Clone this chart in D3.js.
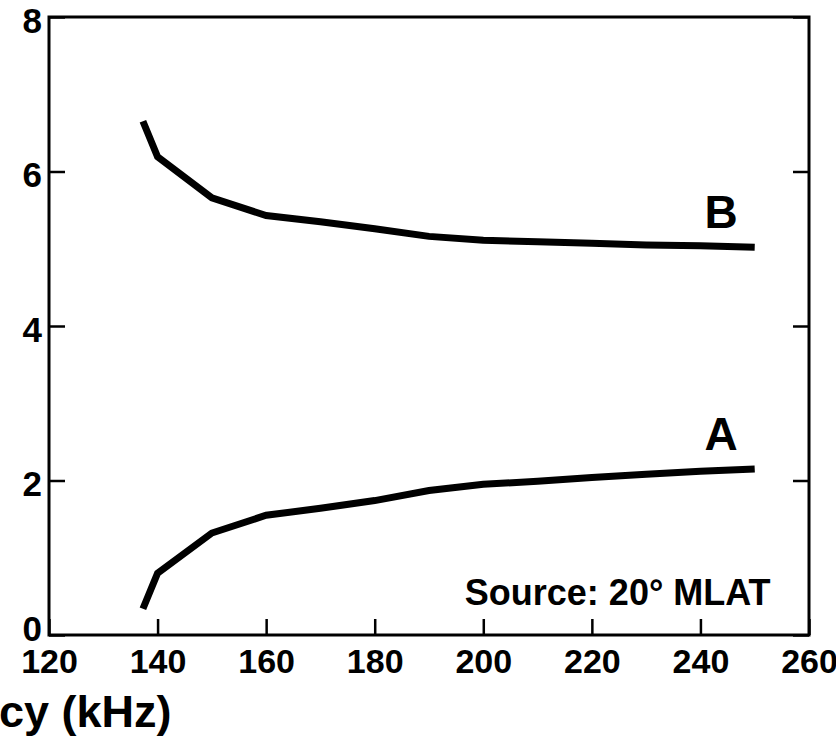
<!DOCTYPE html>
<html lang="en">
<head>
    <meta charset="UTF-8"/>
    <title>Frequency chart</title>
    <script src="https://d3js.org/d3.v7.min.js" charset="utf-8"></script>
    <style type="text/css">
        body { margin: 0; background: #fff; }
        text {
            font-family: "Liberation Sans", Arial, Helvetica, sans-serif;
            font-weight: bold;
            fill: #000;
        }
        path.curve {
            fill: none;
            stroke: #000;
            stroke-width: 7px;
        }
        .axis line { stroke: #000; stroke-width: 2.5px; }
        .axis path { display: none; }
    </style>
</head>
<body>
<div id="chart"></div>
<script type="text/javascript">
    // data
    var freq = [137.3, 140, 150, 160, 170, 180, 190, 200, 210, 220, 230, 240, 250];
    var curveA = [0.34, 0.80, 1.32, 1.55, 1.64, 1.74, 1.87, 1.95, 1.99, 2.04, 2.08, 2.12, 2.15];
    var curveB = [6.65, 6.19, 5.66, 5.43, 5.35, 5.26, 5.16, 5.11, 5.09, 5.07, 5.05, 5.04, 5.02];
    var xTicks = [120, 140, 160, 180, 200, 220, 240, 260];
    var yTicks = [0, 2, 4, 6, 8];

    var margin = {top: 17, right: 27, bottom: 104, left: 49},
        width = 836 - margin.left - margin.right,
        height = 739 - margin.top - margin.bottom;

    var svg = d3.select("#chart")
        .append("svg")
        .attr("width", 836)
        .attr("height", 739)
        .append("g")
        .attr("transform", "translate(" + margin.left + "," + margin.top + ")");

    var x = d3.scaleLinear().domain([120, 260]).range([0, width]);
    var y = d3.scaleLinear().domain([0, 8]).range([height, 0]);

    // bottom axis, ticks point inward
    var xAxis = svg.append("g")
        .attr("class", "axis")
        .attr("transform", "translate(0," + height + ")")
        .call(d3.axisBottom(x).tickValues(xTicks).tickSizeInner(-16).tickSizeOuter(0));
    xAxis.selectAll("text")
        .attr("y", 38)
        .attr("dy", null)
        .style("font-size", "34px");

    // left axis
    var yAxis = svg.append("g")
        .attr("class", "axis")
        .call(d3.axisLeft(y).tickValues(yTicks).tickSizeInner(-16).tickSizeOuter(0));
    yAxis.selectAll("text")
        .attr("x", -7)
        .attr("dy", null)
        .attr("y", function (d) { return d === 0 ? 5 : 15; })
        .style("font-size", "35px");

    // right axis, ticks only
    svg.append("g")
        .attr("class", "axis")
        .attr("transform", "translate(" + width + ",0)")
        .call(d3.axisRight(y).tickValues(yTicks).tickSizeInner(-16).tickSizeOuter(0).tickFormat(""));

    // frame
    svg.append("rect")
        .attr("width", width)
        .attr("height", height)
        .style("fill", "none")
        .style("stroke", "#000")
        .style("stroke-width", 3);

    var line = d3.line()
        .x(function (d, i) { return x(freq[i]); })
        .y(function (d) { return y(d); });

    svg.append("path").attr("class", "curve").attr("d", line(curveA));
    svg.append("path").attr("class", "curve").attr("d", line(curveB));

    // curve labels
    svg.append("text")
        .attr("x", x(243.8)).attr("y", y(5.27))
        .attr("text-anchor", "middle")
        .style("font-size", "46px")
        .text("B");
    svg.append("text")
        .attr("x", x(243.8)).attr("y", y(2.395))
        .attr("text-anchor", "middle")
        .style("font-size", "46px")
        .text("A");

    svg.append("text")
        .attr("x", x(196.6)).attr("y", y(0.39))
        .style("font-size", "36px")
        .text("Source: 20\u00b0 MLAT");

    // axis title (cut off at left edge in the original)
    svg.append("text")
        .attr("x", -margin.left - 1)
        .attr("y", height + 92)
        .style("font-size", "45px")
        .text("cy (kHz)");
</script>
</body>
</html>
